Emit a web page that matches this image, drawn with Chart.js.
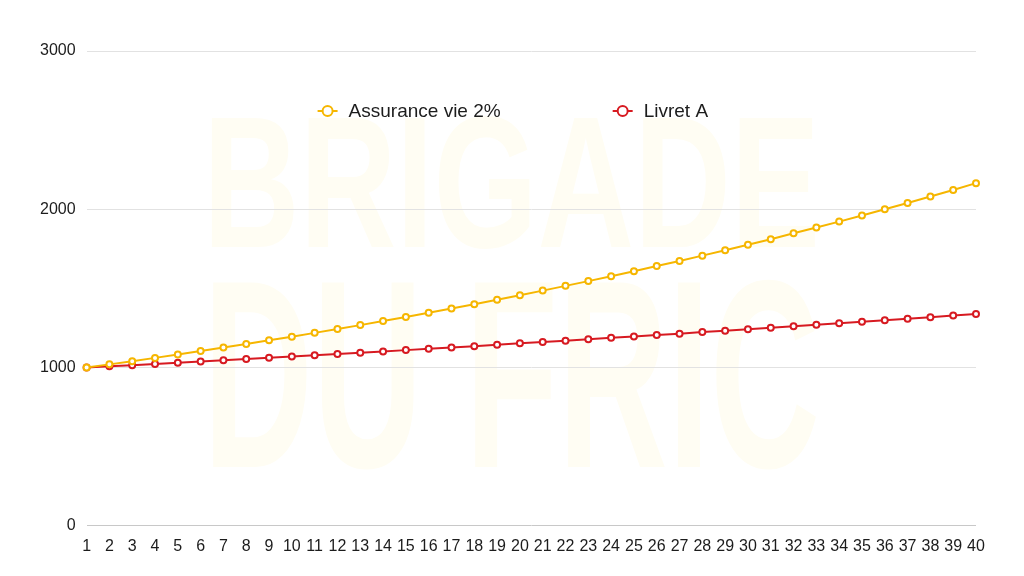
<!DOCTYPE html>
<html>
<head>
<meta charset="utf-8">
<script src="https://cdn.jsdelivr.net/npm/chart.js@4"></script>
<style>
  html, body { margin: 0; padding: 0; background: #ffffff; }
  #wrap { width: 1024px; height: 576px; }
</style>
</head>
<body>
<div id="wrap"><canvas id="chart" width="1024" height="576"></canvas></div>
<script>
// years 1..40
const years = ['1','2','3','4','5','6','7','8','9','10','11','12','13','14','15','16','17','18','19','20',
               '21','22','23','24','25','26','27','28','29','30','31','32','33','34','35','36','37','38','39','40'];

// Assurance vie 2%
const assuranceVie = [1000, 1020, 1040, 1061, 1082, 1104, 1126, 1149, 1172, 1195,
                      1219, 1243, 1268, 1294, 1319, 1346, 1373, 1400, 1428, 1457,
                      1486, 1516, 1546, 1577, 1608, 1641, 1673, 1707, 1741, 1776,
                      1811, 1848, 1885, 1922, 1961, 2000, 2040, 2081, 2122, 2165];

// Livret A
const livretA = [1000, 1008, 1015, 1023, 1030, 1038, 1046, 1054, 1062, 1070,
                 1078, 1086, 1094, 1102, 1110, 1119, 1127, 1135, 1144, 1153,
                 1161, 1170, 1179, 1188, 1196, 1205, 1214, 1224, 1233, 1242,
                 1251, 1261, 1270, 1280, 1289, 1299, 1309, 1318, 1328, 1338];

const yTicks = [0, 1000, 2000, 3000];
const watermark = ['BRIGADE', 'DU FRIC'];

const YELLOW = '#f6b600';
const RED = '#d71a21';

// faint brand text behind the plot
const watermarkPlugin = {
    id: 'watermark',
    beforeDraw(chart) {
        const ctx = chart.ctx;
        const rows = [
            { text: watermark[0], base: 247, cap: 134 },
            { text: watermark[1], base: 467, cap: 192 }
        ];
        const left = 203, width = 617;
        ctx.save();
        ctx.fillStyle = '#fffdf3';
        ctx.textBaseline = 'alphabetic';
        ctx.textAlign = 'left';
        rows.forEach(r => {
            const size = r.cap / 0.716;
            ctx.font = 'bold ' + size + 'px "Liberation Sans", Arial, sans-serif';
            const w = ctx.measureText(r.text).width;
            ctx.save();
            ctx.translate(left, r.base);
            ctx.scale(width / w, 1);
            ctx.fillText(r.text, 0, 0);
            ctx.restore();
        });
        ctx.restore();
    }
};

// legend drawn inside the plot, line + hollow circle markers
const insideLegend = {
    id: 'insideLegend',
    afterDraw(chart) {
        const ctx = chart.ctx;
        const area = chart.chartArea;
        let x = area.left + 231;
        const y = area.top + 60;
        ctx.save();
        ctx.font = '19px "Liberation Sans", Arial, sans-serif';
        ctx.textBaseline = 'middle';
        ctx.textAlign = 'left';
        chart.data.datasets.forEach(ds => {
            ctx.strokeStyle = ds.borderColor;
            ctx.lineWidth = 2;
            ctx.beginPath();
            ctx.moveTo(x, y);
            ctx.lineTo(x + 20, y);
            ctx.stroke();
            ctx.beginPath();
            ctx.arc(x + 10, y, 5, 0, Math.PI * 2);
            ctx.fillStyle = '#ffffff';
            ctx.fill();
            ctx.stroke();
            ctx.fillStyle = '#1c1c1c';
            ctx.fillText(ds.label, x + 31, y + 1);
            x += 31 + ctx.measureText(ds.label).width + 112;
        });
        ctx.restore();
    }
};

new Chart(document.getElementById('chart'), {
    type: 'line',
    data: {
        labels: years,
        datasets: [{
            label: 'Assurance vie 2%',
            data: assuranceVie,
            borderColor: YELLOW,
            backgroundColor: '#ffffff',
            borderWidth: 2,
            pointRadius: 3,
            pointBorderWidth: 2,
            pointBackgroundColor: '#ffffff',
            pointBorderColor: YELLOW,
            tension: 0
        },
        {
            label: 'Livret A',
            data: livretA,
            borderColor: RED,
            backgroundColor: '#ffffff',
            borderWidth: 2,
            pointRadius: 3,
            pointBorderWidth: 2,
            pointBackgroundColor: '#ffffff',
            pointBorderColor: RED,
            tension: 0
        }]
    },
    options: {
        responsive: false,
        animation: false,
        layout: {
            padding: { left: 29, right: 48, top: 51, bottom: 9 }
        },
        plugins: {
            legend: { display: false },
            tooltip: { enabled: false }
        },
        scales: {
            x: {
                offset: false,
                grid: { display: false, drawTicks: false },
                border: { display: false },
                ticks: {
                    color: '#1c1c1c',
                    font: { family: '"Liberation Sans", Arial, sans-serif', size: 16 },
                    padding: 11,
                    autoSkip: false,
                    maxRotation: 0
                }
            },
            y: {
                min: 0,
                max: 3000,
                afterBuildTicks(axis) {
                    axis.ticks = yTicks.map(v => ({ value: v }));
                },
                grid: {
                    color: ctx => ctx.tick && ctx.tick.value === 0 ? '#c8c8c8' : '#e2e2e2',
                    lineWidth: 1,
                    drawTicks: false
                },
                border: { display: false },
                ticks: {
                    color: '#1c1c1c',
                    font: { family: '"Liberation Sans", Arial, sans-serif', size: 16 },
                    padding: 11,
                    callback: v => String(v)
                }
            }
        }
    },
    plugins: [watermarkPlugin, insideLegend]
});
</script>
</body>
</html>
